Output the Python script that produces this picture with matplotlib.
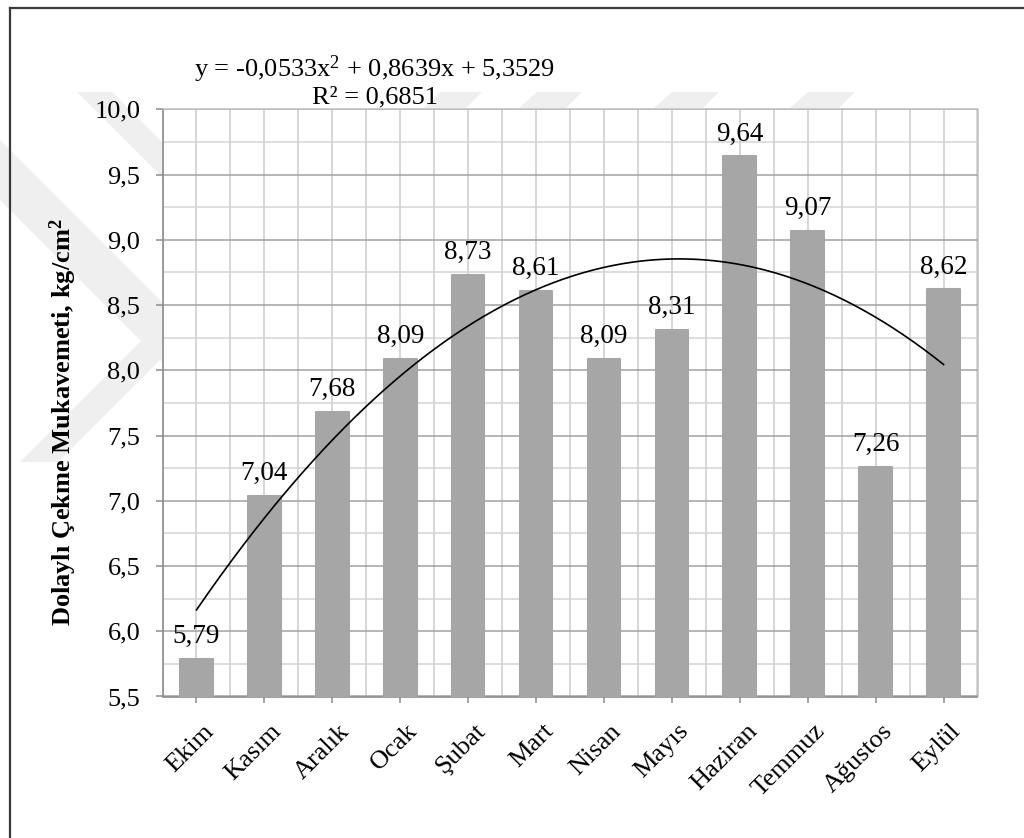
import numpy as np
import matplotlib
matplotlib.use("Agg")
import matplotlib.pyplot as plt
from matplotlib.patches import Polygon
from matplotlib.lines import Line2D
from matplotlib.ticker import FixedLocator, FuncFormatter
import matplotlib.transforms as mtransforms

plt.rcParams["font.family"] = ["Liberation Serif", "DejaVu Serif"]
plt.rcParams["mathtext.fontset"] = "custom"
plt.rcParams["mathtext.rm"] = "Liberation Serif"
plt.rcParams["mathtext.it"] = "Liberation Serif:italic"
plt.rcParams["mathtext.bf"] = "Liberation Serif:bold"

# Monthly indirect tensile strength values
months = ["Ekim", "Kasım", "Aralık", "Ocak", "Şubat", "Mart",
          "Nisan", "Mayıs", "Haziran", "Temmuz", "Ağustos", "Eylül"]
strength = [5.79, 7.04, 7.68, 8.09, 8.73, 8.61,
            8.09, 8.31, 9.64, 9.07, 7.26, 8.62]

# Second-order polynomial trend (x = 1..12)
trend_coef = [-0.0533, 0.8639, 5.3529]
r_squared = 0.6851

y_ticks = [5.5, 6.0, 6.5, 7.0, 7.5, 8.0, 8.5, 9.0, 9.5, 10.0]

W, H = 1024, 838
fig = plt.figure(figsize=(W / 100, H / 100), dpi=100)
fig.patch.set_facecolor("white")


def px(x, y):
    return (x / W, 1 - y / H)


# faint background emblem
wm_color = "#efefef"
wm_shapes = [
    [(77, 92), (112, 92), (170, 150), (170, 185)],
    [(0, 140), (0, 200), (170, 370), (170, 310)],
    [(20, 462), (58, 462), (170, 350), (170, 312)],
    [(440, 92), (482, 92), (466, 108), (424, 108)],
    [(537, 92), (582, 92), (566, 108), (519, 108)],
    [(672, 92), (719, 92), (703, 108), (654, 108)],
    [(808, 92), (855, 92), (839, 108), (790, 108)],
]
for shp in wm_shapes:
    fig.patches.append(Polygon([px(*p) for p in shp], closed=True,
                               transform=fig.transFigure, facecolor=wm_color,
                               edgecolor="none", zorder=-5))

# outer chart frame
fig.lines.append(Line2D([10 / W, 1.0], [1 - 8 / H, 1 - 8 / H],
                        transform=fig.transFigure, color="#3a3a3a", lw=1.6))
fig.lines.append(Line2D([10 / W, 10 / W], [1 - 8 / H, 0.0],
                        transform=fig.transFigure, color="#3a3a3a", lw=1.6))

ax_left, ax_right, ax_top, ax_bottom = 162.5, 977.5, 109.3, 696.5
ax = fig.add_axes([ax_left / W, 1 - ax_bottom / H,
                   (ax_right - ax_left) / W, (ax_bottom - ax_top) / H])
ax.set_facecolor("white")
ax.set_zorder(1)

xpos = np.arange(len(months))
bar_color = "#a6a6a6"
ax.bar(xpos, strength, width=0.48, color=bar_color, edgecolor=bar_color,
       linewidth=1.5, joinstyle="round", zorder=3)

# value labels
for x, v in zip(xpos, strength):
    ax.annotate(f"{v:.2f}".replace(".", ","), (x, v), xytext=(0, 7),
                textcoords="offset points", ha="center", va="bottom",
                fontsize=19.5, color="black", zorder=5)

# trend curve
xs = np.linspace(1, len(months), 300)
ys = trend_coef[0] * xs ** 2 + trend_coef[1] * xs + trend_coef[2]
ax.plot(xs - 1, ys, color="black", lw=1.2, zorder=4)

ax.set_xlim(-0.5, len(months) - 0.5)
ax.set_ylim(5.5, 10.0)

# grid
ax.yaxis.set_major_locator(FixedLocator(y_ticks))
ax.yaxis.set_minor_locator(FixedLocator(np.arange(5.75, 10.0, 0.5)))
ax.yaxis.set_major_formatter(FuncFormatter(lambda v, p: f"{v:.1f}".replace(".", ",")))
ax.xaxis.set_major_locator(FixedLocator(xpos))
ax.xaxis.set_minor_locator(FixedLocator(np.arange(-0.5, len(months), 1.0)))

ax.grid(axis="y", which="major", color="#a0a0a0", lw=1.1, zorder=0)
ax.grid(axis="y", which="minor", color="#d4d4d4", lw=1.1, zorder=0)
ax.grid(axis="x", which="both", color="#cccccc", lw=1.1, zorder=0)
ax.set_axisbelow(True)

for side in ["top", "right"]:
    ax.spines[side].set_color("#c0c0c0")
    ax.spines[side].set_linewidth(1.1)
for side in ["left", "bottom"]:
    ax.spines[side].set_color("#8c8c8c")
    ax.spines[side].set_linewidth(1.2)

ax.tick_params(axis="y", which="major", direction="out", length=5,
               width=1.1, color="#8c8c8c", pad=11, labelsize=19)
ax.tick_params(axis="y", which="minor", length=0)
ax.tick_params(axis="x", which="major", direction="out", length=4,
               width=1.1, color="#8c8c8c", pad=13, labelsize=19)
ax.tick_params(axis="x", which="minor", length=0)

ax.set_xticklabels(months, rotation=45, ha="right", va="top",
                   rotation_mode="anchor")
shift = mtransforms.ScaledTranslation(6 / 100, 0, fig.dpi_scale_trans)
for lbl in ax.get_xticklabels():
    lbl.set_transform(lbl.get_transform() + shift)

# axis title
fig.text(63 / W, 1 - 422 / H, "Dolaylı Çekme Mukavemeti, kg/cm$^\\mathbf{2}$",
         rotation=90, ha="center", va="center", fontsize=19, fontweight="bold")

# trend equation
fig.text(375 / W, 1 - 69 / H, "y = -0,0533x$^2$ + 0,8639x + 5,3529",
         ha="center", va="center", fontsize=19)
fig.text(375 / W, 1 - 97 / H, "R² = 0,6851",
         ha="center", va="center", fontsize=19)

fig.savefig("out.png", dpi=100)
